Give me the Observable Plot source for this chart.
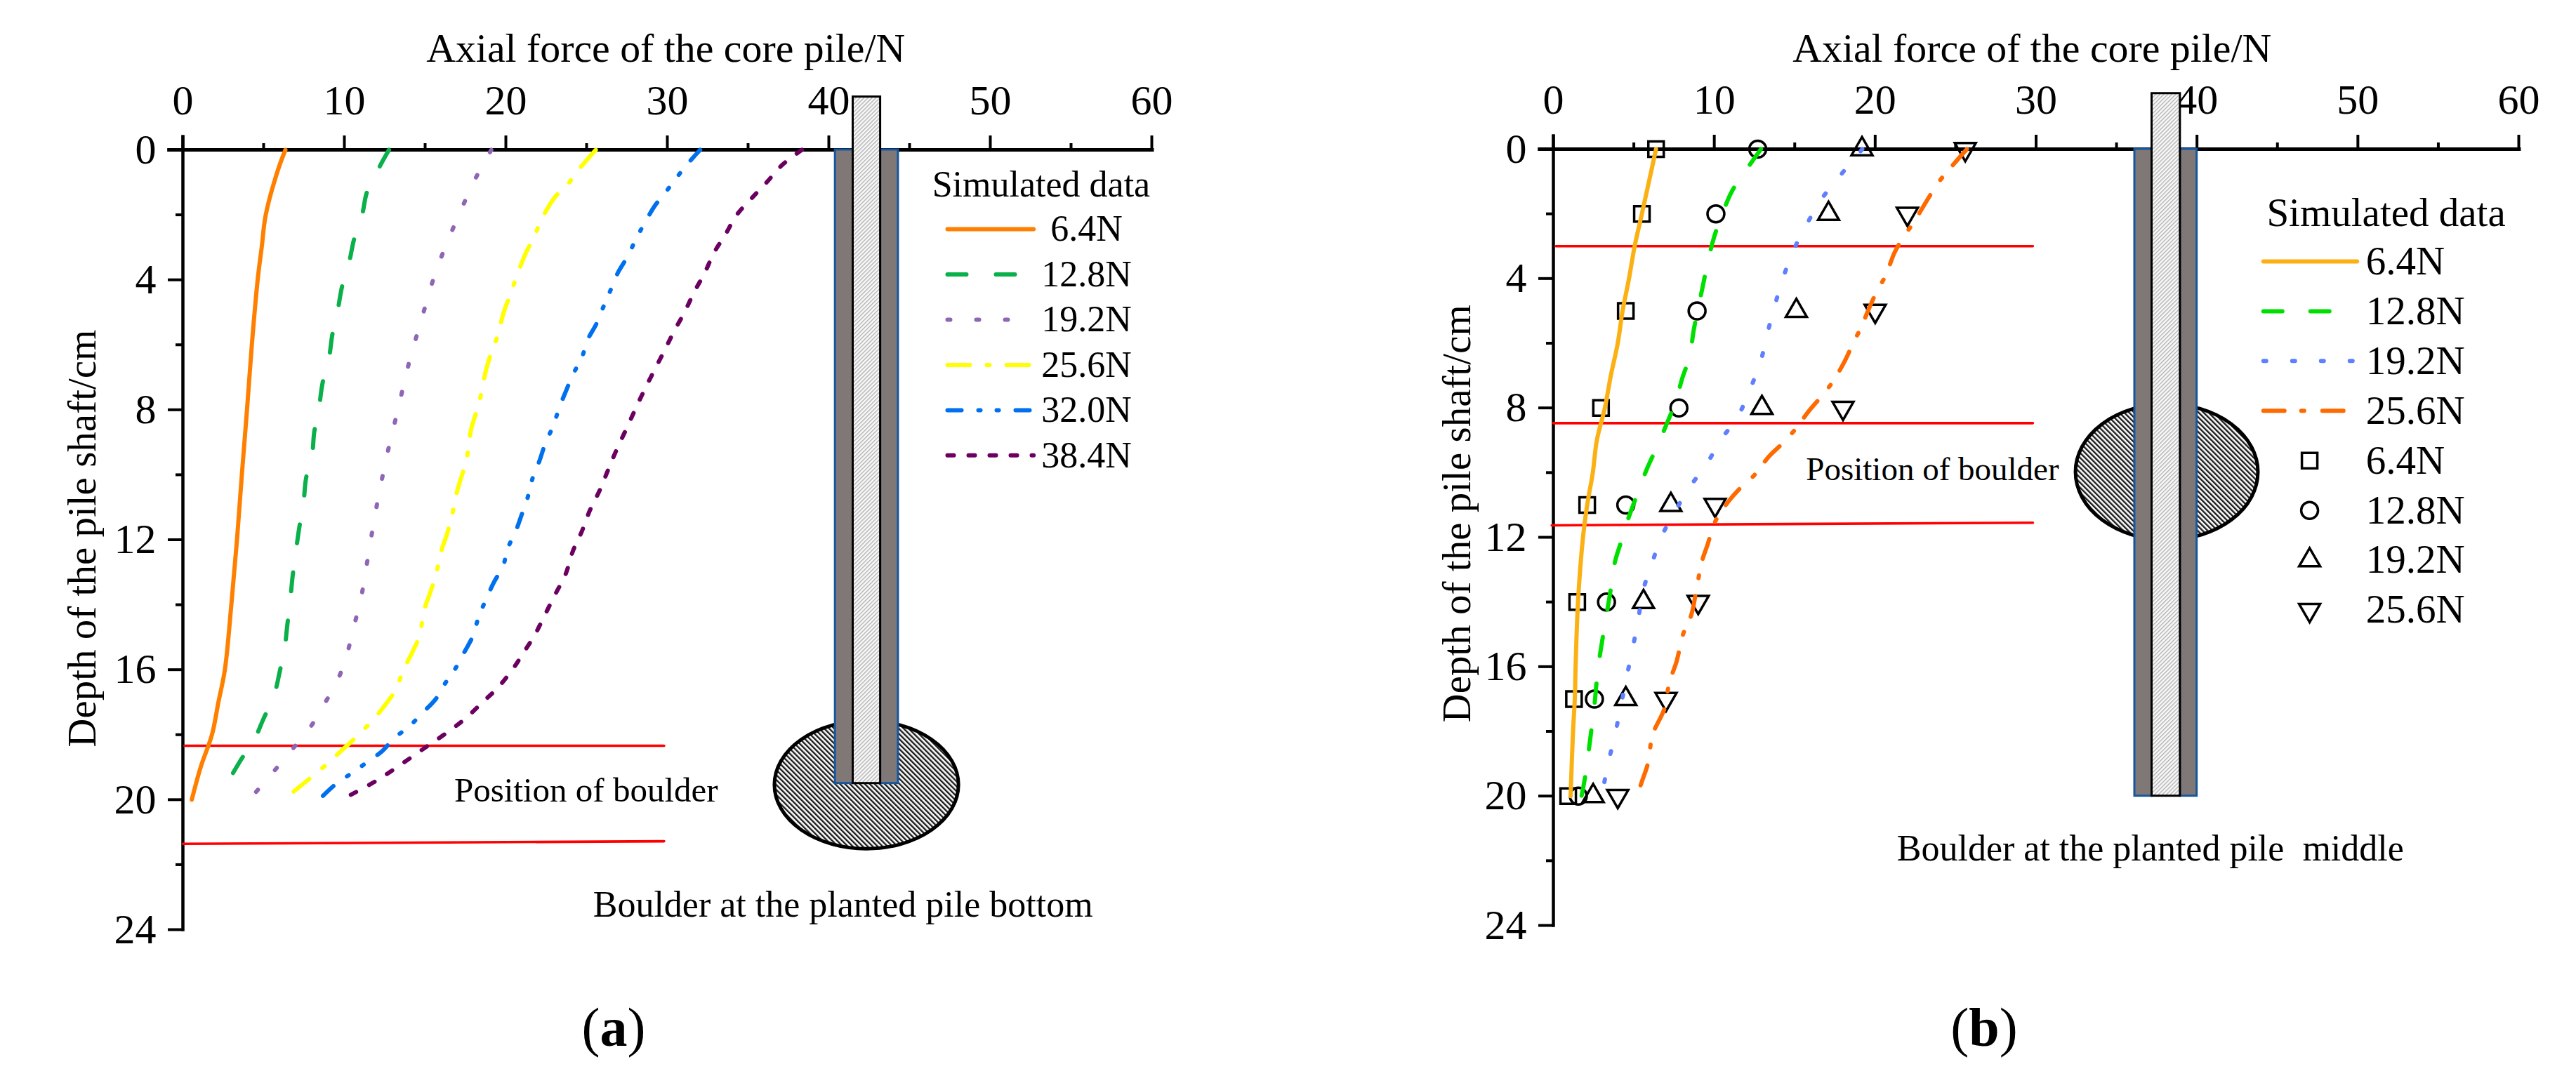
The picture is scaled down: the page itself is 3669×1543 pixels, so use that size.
<!DOCTYPE html>
<html>
<head>
<meta charset="utf-8">
<script src="https://cdn.jsdelivr.net/npm/d3@7"></script>
<script src="https://cdn.jsdelivr.net/npm/@observablehq/plot@0.6"></script>
<style>
html,body{margin:0;padding:0;background:#fff;}
#page{position:relative;width:3669px;height:1543px;overflow:hidden;background:#fff;font-family:"Liberation Serif",serif;}
.panel{position:absolute;top:0;}
.panel svg{display:block;max-width:none;overflow:visible;}
.cap{position:absolute;top:1425px;font-size:78px;line-height:1;transform:translateX(-50%);color:#000;}
</style>
</head>
<body>
<div id="page"></div>
<script>
// ---------- Tick values ----------
const xMajor = [0, 10, 20, 30, 40, 50, 60];
const xMinor = [5, 15, 25, 35, 45, 55];
const yMajor = [0, 4, 8, 12, 16, 20, 24];
const yMinor = [2, 6, 10, 14, 18, 22];

// ---------- Panel (a): [force, depth] ----------
const a064 = [[6.35,0],[5.9,0.6],[5.13,2],[4.88,3],[4.63,4],[4.27,6],[3.97,8],[3.65,10],[3.35,12],[3.0,14],[2.6,16],[2.2,17],[1.8,18],[1.1,19],[0.55,20]];
const a128 = [[12.76,0],[12.2,0.5],[11.4,1.3],[11.1,2],[10.6,2.75],[10.3,3.45],[9.86,4.2],[9.6,4.9],[9.25,5.7],[9.05,6.4],[8.64,7.2],[8.44,7.9],[8.13,8.7],[8.0,9.4],[7.63,10.1],[7.47,10.85],[7.2,11.65],[7.0,12.35],[6.8,13.1],[6.66,13.8],[6.46,14.65],[6.3,15.35],[6.0,16.05],[5.64,16.8],[5.0,17.5],[4.47,18.1],[3.56,18.8],[2.85,19.4]];
const a192 = [[19.1,0],[18.2,0.8],[17.4,1.65],[16.7,2.45],[16.0,3.3],[15.4,4.15],[14.9,5],[14.4,5.85],[13.9,6.75],[13.5,7.6],[13.07,8.5],[12.66,9.35],[12.3,10.2],[11.95,11.1],[11.64,12],[11.34,12.9],[11.03,13.8],[10.6,14.65],[10.17,15.5],[9.56,16.35],[8.7,17.1],[7.78,17.85],[6.6,18.55],[5.34,19.3],[4.1,20]];
const a256 = [[25.57,0],[24.45,0.64],[23.8,1.08],[23.03,1.46],[22.17,2.18],[21.76,2.67],[21.25,3.16],[20.64,3.93],[20.3,4.43],[19.88,4.98],[19.47,5.75],[19.1,6.24],[18.76,6.8],[18.45,7.56],[18.15,8.1],[17.85,8.6],[17.6,9.43],[17.34,9.92],[17.0,10.47],[16.67,11.24],[16.37,11.8],[16.0,12.35],[15.66,13.1],[15.3,13.65],[14.95,14.15],[14.64,14.97],[14.2,15.47],[13.7,15.97],[13.1,16.68],[12.5,17.1],[11.85,17.5],[10.68,18.1],[9.8,18.5],[9.05,18.85],[7.73,19.4],[6.86,19.75]];
const a320 = [[32.03,0],[31.27,0.42],[30.66,0.8],[29.9,1.3],[29.2,1.74],[28.6,2.25],[28.1,2.7],[27.55,3.27],[26.95,3.77],[26.5,4.3],[26.1,4.76],[25.6,5.36],[25.06,5.85],[24.7,6.4],[24.2,6.87],[23.74,7.4],[23.3,7.95],[22.93,8.5],[22.47,9],[22.06,9.6],[21.66,10.1],[21.35,10.7],[21.0,11.2],[20.6,11.75],[20.13,12.25],[19.83,12.8],[19.27,13.3],[18.76,13.85],[18.3,14.4],[17.95,14.97],[17.44,15.45],[16.83,16],[16.2,16.45],[15.66,16.9],[14.9,17.3],[14.0,17.75],[13.1,18.1],[12.35,18.5],[11.4,18.85],[10.4,19.2],[9.4,19.55],[8.64,19.9]];
const a384 = [[38.33,0],[37.1,0.47],[36.15,1],[35.2,1.5],[34.3,2],[33.6,2.6],[32.9,3.16],[32.3,3.8],[31.67,4.37],[31.06,5],[30.4,5.6],[29.8,6.2],[29.18,6.8],[28.57,7.4],[28.0,8],[27.45,8.6],[26.84,9.25],[26.33,9.85],[25.83,10.46],[25.2,11.1],[24.7,11.75],[24.15,12.35],[23.7,13.06],[23.08,13.66],[22.47,14.26],[21.8,14.92],[21.1,15.47],[20.4,16],[19.47,16.57],[18.56,17],[17.5,17.5],[16.37,17.93],[15.2,18.33],[14.13,18.7],[12.96,19.1],[11.8,19.47],[10.4,19.85]];

// ---------- Panel (b): [force, depth] ----------
const b064 = [[6.38,0],[5.5,2],[5.05,3],[4.7,4],[4.3,5],[4.0,6],[3.57,7],[3.2,8],[2.7,9],[2.45,10],[2.1,11],[1.84,12],[1.53,14],[1.38,16],[1.33,17],[1.22,18],[1.07,20]];
const b128 = [[12.9,0],[12.04,0.6],[11.1,1.3],[10.5,2],[10.0,2.7],[9.64,3.4],[9.3,4.2],[9.03,4.85],[8.72,5.6],[8.47,6.4],[8.0,7.1],[7.6,7.8],[7.04,8.5],[6.53,9.1],[5.8,9.9],[5.3,10.55],[4.6,11.5],[4.3,12],[3.83,12.75],[3.6,13.5],[3.3,14.4],[3.1,15],[2.86,15.75],[2.7,16.4],[2.55,17.2],[2.35,18],[2.14,18.8],[1.94,19.5],[1.75,20]];
const b192 = [[19.2,0],[17.85,0.8],[16.73,1.5],[15.77,2.3],[14.95,3.1],[14.33,3.9],[13.78,4.8],[13.3,5.7],[12.86,6.6],[12.24,7.4],[11.43,8.3],[10.46,8.95],[9.5,9.75],[8.4,10.5],[7.45,11.3],[6.7,12],[6.1,12.85],[5.6,13.6],[5.25,14.6],[4.9,15.5],[4.54,16.35],[4.2,17.2],[3.83,18.1],[3.4,19],[3.06,19.85]];
const b256 = [[25.7,0],[24.64,0.6],[23.9,1.05],[23.2,1.6],[22.35,2.3],[21.84,2.65],[21.2,3.2],[20.66,3.9],[20.15,4.35],[19.64,4.9],[19.13,5.5],[18.6,6.03],[18.1,6.56],[17.35,7.2],[16.73,7.6],[15.87,8.1],[15.05,8.65],[14.23,9.1],[13.4,9.5],[12.45,10.1],[11.63,10.47],[10.87,10.9],[10.0,11.57],[9.6,12.2],[9.23,12.75],[8.93,13.5],[8.57,14.4],[8.06,15],[7.65,15.85],[7.2,16.5],[6.9,17.3],[6.17,18.1],[5.87,19],[5.5,19.55],[5.2,20]];

// Measured markers of panel (b)
const markerDepth = [0, 2, 5, 8, 11, 14, 17, 20];
const m064 = [6.38, 5.5, 4.5, 2.96, 2.1, 1.48, 1.28, 0.92];
const m128 = [12.7, 10.1, 8.93, 7.8, 4.5, 3.3, 2.55, 1.55];
const m192 = [19.18, 17.1, 15.1, 12.96, 7.3, 5.6, 4.5, 2.47];
const m256 = [25.6, 22.0, 20.0, 18.0, 10.05, 9.0, 7.0, 4.0];

const labelsA = ["6.4N", "12.8N", "19.2N", "25.6N", "32.0N", "38.4N"];
const colorsA = ["#ff8000", "#0ab04a", "#8f65b5", "#ffff00", "#0070ee", "#6b0060"];
const dashesA = ["none", "27 42", "4 37", "32 24 4 24", "20 24 3 23 3 24", "9 21"];
const labelsB = ["6.4N", "12.8N", "19.2N", "25.6N"];
const colorsB = ["#fbb113", "#00e000", "#5f7fff", "#ff6a00"];
const dashesB = ["none", "27 40", "4 37", "30 24 4 26"];

const triangleDown = {
  draw(ctx, size) {
    const y = Math.sqrt(size / (Math.sqrt(3) * 3));
    ctx.moveTo(0, y * 2);
    ctx.lineTo(-Math.sqrt(3) * y, -y);
    ctx.lineTo(Math.sqrt(3) * y, -y);
    ctx.closePath();
  }
};
const symbols = ["square", "circle", "triangle", triangleDown];
const symbolR = [12.4, 12, 11.1, 11.1];

const FONT = '"Liberation Serif", "Times New Roman", serif';

function txt(s, x, y, size, anchor, extra) {
  return Plot.text([s], Object.assign({x: () => x, y: () => y, text: d => d, fontSize: size, textAnchor: anchor, lineAnchor: "bottom", fill: "#000"}, extra || {}));
}

function defsMark(id) {
  return () => d3.create("svg:defs").html(
    `<pattern id="boulder${id}" width="5" height="5" patternUnits="userSpaceOnUse" patternTransform="rotate(-45)"><rect width="5" height="5" fill="#fff"/><rect width="2.4" height="5" fill="#1a1a1a"/></pattern>` +
    `<pattern id="core${id}" width="4" height="4" patternUnits="userSpaceOnUse" patternTransform="rotate(45)"><rect width="4" height="4" fill="#fafafa"/><rect width="1.4" height="4" fill="#b0b0b0"/></pattern>`
  ).node();
}

function ellipseMark(id, cx, cy, rx, ry) {
  return (index, scales) => d3.create("svg:ellipse")
    .attr("cx", scales.x(cx)).attr("cy", scales.y(cy))
    .attr("rx", scales.x(cx + rx) - scales.x(cx)).attr("ry", scales.y(cy + ry) - scales.y(cy))
    .attr("fill", `url(#boulder${id})`).attr("stroke", "#000").attr("stroke-width", 5).node();
}

function panel(cfg) {
  const leg = cfg.legend;
  const marks = [
    defsMark(cfg.id),
    Plot.axisX({anchor: "top", ticks: xMajor, tickSize: 21, tickPadding: 30, strokeWidth: 4, fontSize: 60, label: null, tickFormat: d => String(d)}),
    Plot.axisX({anchor: "top", ticks: xMinor, tickSize: 10, strokeWidth: 4, fill: "none", label: null}),
    Plot.axisY({anchor: "left", ticks: yMajor, tickSize: 21, tickPadding: 17, strokeWidth: 4, fontSize: 60, label: null, tickFormat: d => String(d)}),
    Plot.axisY({anchor: "left", ticks: yMinor, tickSize: 10, strokeWidth: 4, fill: "none", label: null}),
    Plot.ruleY([0], {x1: () => -0.95, x2: () => 60.15, strokeWidth: 5, stroke: "#000"}),
    Plot.ruleX([0], {y1: () => -0.45, y2: () => 24.06, strokeWidth: 4.5, stroke: "#000"}),
    ellipseMark(cfg.id, ...cfg.ellipse),
    Plot.rect([0], {x1: () => cfg.pile[0], x2: () => cfg.pile[1], y1: () => 0, y2: () => cfg.pile[4], fill: "#7f7877", stroke: "#14569f", strokeWidth: 3, inset: 0}),
    Plot.rect([0], {x1: () => cfg.pile[2], x2: () => cfg.pile[3], y1: () => 0, y2: () => cfg.pile[4], fill: "#7f7877", stroke: "#14569f", strokeWidth: 3, inset: 0}),
    Plot.rect([0], {x1: () => cfg.pile[1], x2: () => cfg.pile[2], y1: () => cfg.pile[5], y2: () => cfg.pile[4], fill: `url(#core${cfg.id})`, stroke: "#000", strokeWidth: 3, inset: 0}),
    ...cfg.red.map(r => Plot.line(r, {x: d => d[0], y: d => d[1], stroke: "#ff0000", strokeWidth: 3.6})),
    ...(cfg.markers || []).map((vals, i) => Plot.dot(vals, {x: d => d, y: (d, j) => markerDepth[j], symbol: () => symbols[i], r: symbolR[i], stroke: "#000", strokeWidth: 3.5, fill: "none"})),
    ...cfg.series.map((s, i) => Plot.line(s, {x: d => d[0], y: d => d[1], curve: "catmull-rom", stroke: cfg.colors[i], strokeWidth: 6, strokeLinecap: "round", strokeLinejoin: "round", strokeDasharray: cfg.dashes[i] === "none" ? undefined : cfg.dashes[i]})),
    txt("Axial force of the core pile/N", cfg.title[0], cfg.title[1], 57.8, "middle"),
    Plot.text(["Depth of the pile shaft/cm"], {x: () => cfg.ylabel[0], y: () => cfg.ylabel[1], text: d => d, rotate: -90, fontSize: 57, fill: "#000"}),
    txt("Simulated data", cfg.legendTitle[0], cfg.legendTitle[1], cfg.legendFont, "start"),
    ...cfg.labels.map((lab, i) => Plot.ruleY([leg.y0 + i * leg.dy], {x1: () => leg.x1, x2: () => leg.x2, stroke: cfg.colors[i], strokeWidth: 6, strokeLinecap: "round", strokeDasharray: cfg.dashes[i] === "none" ? undefined : cfg.dashes[i]})),
    ...cfg.labels.map((lab, i) => Plot.text([lab], {x: () => leg.tx, y: () => leg.y0 + i * leg.dy, text: d => d, fontSize: cfg.legendFont, textAnchor: leg.anchor, fill: "#000"})),
    ...(cfg.markers || []).map((vals, i) => Plot.dot([0], {x: () => leg.mx, y: () => leg.y0 + (i + cfg.labels.length) * leg.dy, symbol: () => symbols[i], r: symbolR[i], stroke: "#000", strokeWidth: 3.5, fill: "none"})),
    ...(cfg.markers || []).map((vals, i) => Plot.text([cfg.labels[i]], {x: () => leg.tx, y: () => leg.y0 + (i + cfg.labels.length) * leg.dy, text: d => d, fontSize: cfg.legendFont, textAnchor: leg.anchor, fill: "#000"})),
    txt("Position of boulder", cfg.pos[0], cfg.pos[1], cfg.pos[2], "start"),
    txt(cfg.note, cfg.noteAt[0], cfg.noteAt[1], 52, "start")
  ];
  return Plot.plot({
    width: cfg.width, height: 1543,
    marginLeft: cfg.m[0], marginRight: cfg.m[1], marginTop: cfg.m[2], marginBottom: cfg.m[3],
    x: {domain: [0, 60]},
    y: {domain: [0, 24], reverse: true},
    style: {fontFamily: FONT, background: "transparent", color: "#000", whiteSpace: "pre", overflow: "visible"},
    marks
  });
}

const panelA = panel({
  id: "a", width: 1835, m: [260, 195, 213, 219],
  series: [a064, a128, a192, a256, a320, a384], colors: colorsA, dashes: dashesA, labels: labelsA,
  ellipse: [42.35, 19.55, 5.7, 1.97],
  pile: [40.4, 41.5, 43.2, 44.3, 19.5, -1.63],
  red: [[[0.1, 18.34], [29.8, 18.34]], [[0, 21.36], [29.8, 21.28]]],
  title: [29.9, -2.72], ylabel: [-6.2, 11.96],
  legendTitle: [46.4, 1.43], legendFont: 52,
  legend: {x1: 47.37, x2: 52.7, y0: 2.44, dy: 1.393, tx: 55.96, anchor: "middle"},
  pos: [16.8, 20.06, 49], note: "Boulder at the planted pile bottom", noteAt: [25.4, 23.6]
});

const panelB = panel({
  id: "b", width: 1834, m: [377, 82, 212, 225],
  series: [b064, b128, b192, b256], colors: colorsB, dashes: dashesB, labels: labelsB,
  markers: [m064, m128, m192, m256],
  ellipse: [38.14, 9.99, 5.67, 2.1],
  pile: [36.13, 37.2, 38.96, 40.0, 20, -1.72],
  red: [[[0.15, 3], [29.8, 3]], [[0, 8.47], [29.8, 8.47]], [[-0.1, 11.63], [29.8, 11.55]]],
  title: [29.75, -2.71], ylabel: [-5.95, 11.27],
  legendTitle: [44.33, 2.38], legendFont: 57,
  legend: {x1: 44.15, x2: 49.97, y0: 3.47, dy: 1.54, tx: 50.5, anchor: "start", mx: 47.0},
  pos: [15.7, 10.23, 47], note: "Boulder at the planted pile  middle", noteAt: [21.35, 22]
});

const page = document.getElementById("page");
function place(node, left) {
  const d = document.createElement("div");
  d.className = "panel";
  d.style.left = left + "px";
  d.appendChild(node);
  page.appendChild(d);
}
place(panelA, 0);
place(panelB, 1835);
function caption(letter, left) {
  const c = document.createElement("div");
  c.className = "cap";
  c.style.left = left + "px";
  c.innerHTML = `(<b>${letter}</b>)`;
  page.appendChild(c);
}
caption("a", 874);
caption("b", 2826);
</script>
</body>
</html>
